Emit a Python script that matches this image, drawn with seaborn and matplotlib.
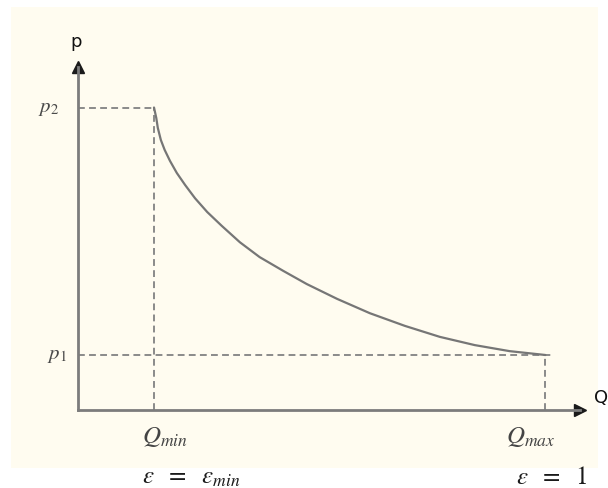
import matplotlib
matplotlib.use("Agg")
import matplotlib.pyplot as plt
from matplotlib.patches import Rectangle
import seaborn as sns
import pandas as pd

# ---- data (schematic units) ----
q_curve = [1.00, 1.03, 1.05, 1.09, 1.14, 1.21, 1.30, 1.41, 1.54, 1.70, 1.89,
           2.13, 2.39, 2.70, 3.01, 3.41, 3.84, 4.30, 4.76, 5.22, 5.68, 6.15]
p_curve = [5.50, 5.31, 5.13, 4.91, 4.73, 4.53, 4.31, 4.09, 3.85, 3.60, 3.35,
           3.05, 2.78, 2.53, 2.29, 2.02, 1.76, 1.53, 1.33, 1.18, 1.07, 1.00]
Q_MIN, Q_MAX = 1.00, 6.15
P_1, P_2 = 1.00, 5.50
x_labels = ["$Q_{min}$", "$Q_{max}$"]
eps_labels = [r"$\varepsilon\ \ =\ \ \varepsilon_{min}$", r"$\varepsilon\ \ =\ \ 1$"]
y_labels = ["$p_1$", "$p_2$"]
axis_names = ["Q", "p"]

df = pd.DataFrame({"Q": q_curve, "p": p_curve})

sns.set_theme(style="white")
plt.rcParams["mathtext.fontset"] = "stix"
plt.rcParams["font.family"] = ["DejaVu Sans"]

W, H = 608, 488
fig = plt.figure(figsize=(W / 100, H / 100), dpi=100, facecolor="white")
# cream paper background
fig.patches.append(Rectangle((11 / W, 1 - 468 / H), (598 - 11) / W, (468 - 7) / H,
                             transform=fig.transFigure, facecolor="#fffcf0",
                             edgecolor="none", zorder=-10))

x0, y0 = 78, 410          # origin in pixels
ux, uy = 76.0, 55.0       # pixels per unit
xmax, ymax = 6.6, 6.24
ax = fig.add_axes([x0 / W, 1 - y0 / H, xmax * ux / W, ymax * uy / H])
ax.set_zorder(5)
ax.set_facecolor("none")
ax.patch.set_alpha(0)
ax.set_xlim(0, xmax)
ax.set_ylim(0, ymax)
ax.set_xticks([])
ax.set_yticks([])
for s in ["top", "right"]:
    ax.spines[s].set_visible(False)
for s in ["left", "bottom"]:
    ax.spines[s].set_color("#7c7c7c")
    ax.spines[s].set_linewidth(2.0)

# arrow heads
ax.plot(1, 0, ">", color="#1a1a1a", markersize=9, transform=ax.get_yaxis_transform(), clip_on=False)
ax.plot(0, 1, "^", color="#1a1a1a", markersize=9, transform=ax.get_xaxis_transform(), clip_on=False)

dash_kw = dict(color="#8a8a8a", lw=1.4, ls=(0, (3.5, 2.2)), zorder=2)
ax.plot([0, Q_MIN], [P_2, P_2], **dash_kw)
ax.plot([Q_MIN, Q_MIN], [0, P_2], **dash_kw)
ax.plot([0, Q_MAX + 0.08], [P_1, P_1], **dash_kw)
ax.plot([Q_MAX, Q_MAX], [0, P_1], **dash_kw)

sns.lineplot(data=df, x="Q", y="p", sort=False, ax=ax, color="#767676", lw=1.6, zorder=3)
ax.set_xlabel("")
ax.set_ylabel("")

mfs = 18
ax.annotate(x_labels[0], xy=(Q_MIN, 0), xytext=(-12, -27), textcoords="offset pixels",
            ha="left", va="center", fontsize=mfs, color="#444444", annotation_clip=False)
ax.annotate(x_labels[1], xy=(Q_MAX, 0), xytext=(-39, -27), textcoords="offset pixels",
            ha="left", va="center", fontsize=mfs, color="#444444", annotation_clip=False)
ax.annotate(eps_labels[0], xy=(Q_MIN, 0), xytext=(-12, -67), textcoords="offset pixels",
            ha="left", va="center", fontsize=mfs, color="#1a1a1a", annotation_clip=False)
ax.annotate(eps_labels[1], xy=(Q_MAX, 0), xytext=(-29, -67), textcoords="offset pixels",
            ha="left", va="center", fontsize=mfs, color="#1a1a1a", annotation_clip=False)
ax.annotate(y_labels[1], xy=(0, P_2), xytext=(-19, 0), textcoords="offset pixels",
            ha="right", va="center", fontsize=15, color="#4a4a4a", annotation_clip=False)
ax.annotate(y_labels[0], xy=(0, P_1), xytext=(-11, 0), textcoords="offset pixels",
            ha="right", va="center", fontsize=15, color="#4a4a4a", annotation_clip=False)
ax.annotate(axis_names[1], xy=(0, ymax), xytext=(-2, 25), textcoords="offset pixels",
            ha="center", va="center", fontsize=13, color="#111111", annotation_clip=False)
ax.annotate(axis_names[0], xy=(xmax, 0), xytext=(14, 12), textcoords="offset pixels",
            ha="left", va="center", fontsize=13, color="#111111", annotation_clip=False)

fig.savefig("out.png", dpi=100, facecolor="white")
